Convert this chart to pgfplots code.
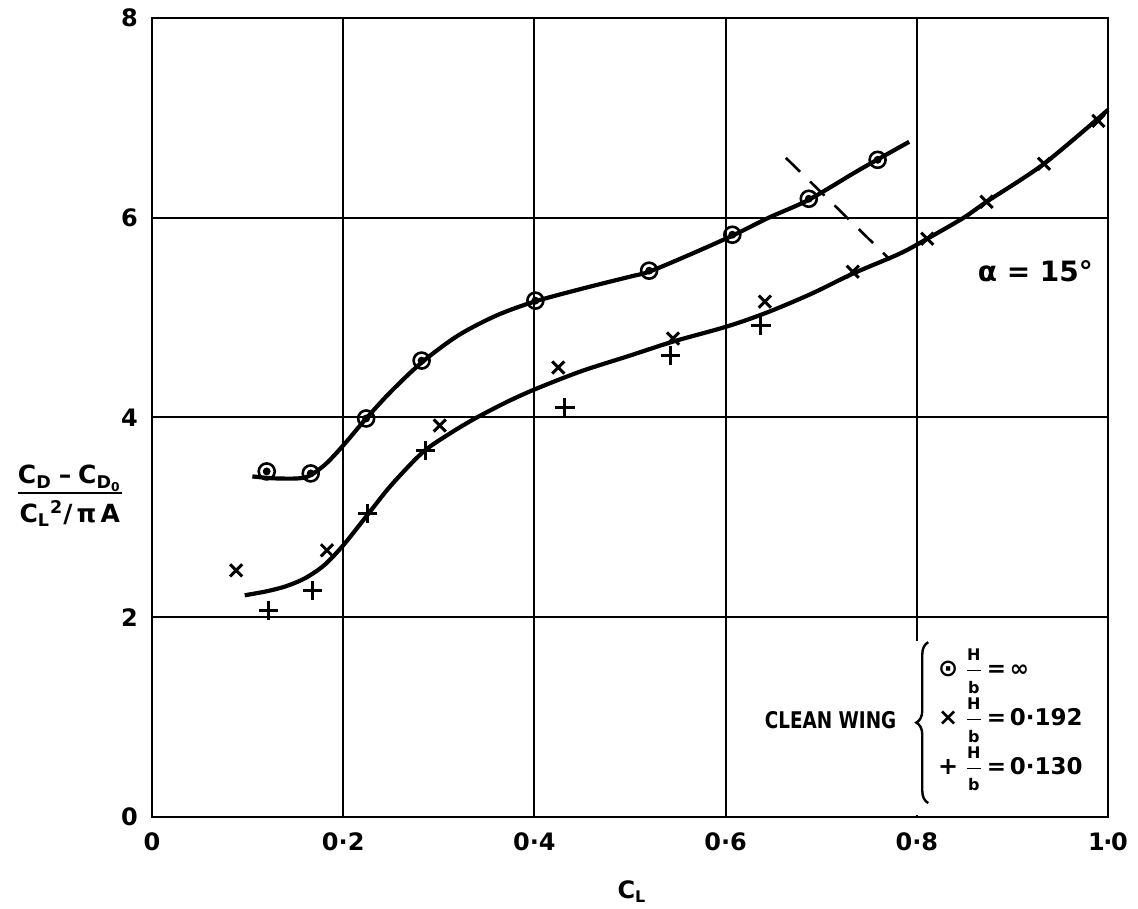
\documentclass[border=0pt]{standalone}
\usepackage{amsmath}
\usepackage{graphicx}
\usepackage{pgfplots}
\pgfplotsset{compat=1.18}
\usetikzlibrary{decorations.pathreplacing}
\usepackage{fontspec}
\setmainfont{DejaVu Sans}
\pgfdeclareplotmark{odot}{%
  \pgfpathcircle{\pgfpointorigin}{\pgfplotmarksize}\pgfusepathqstroke
  \pgfpathcircle{\pgfpointorigin}{0.32\pgfplotmarksize}\pgfusepathqfillstroke}
\newcommand{\Hb}{\ensuremath{\genfrac{}{}{0.7pt}{0}{\text{\fontsize{8}{8}\selectfont\bfseries H}}{\text{\fontsize{8}{8}\selectfont\bfseries b}}}}
\newcommand{\rowstrut}{\rule[-10.5pt]{0pt}{18pt}}
\begin{document}
\begin{tikzpicture}
\begin{axis}[
  scale only axis, width=478pt, height=399.5pt,
  xmin=0, xmax=1, ymin=0, ymax=8,
  xtick={0,0.2,0.4,0.6,0.8,1},
  xticklabels={0,0·2,0·4,0·6,0·8,{1\kern-0.06em·\kern-0.06em0}},
  ytick={0,2,4,6,8},
  yticklabels={0,2,4,6,8},
  grid=major, major grid style={black, line width=1pt},
  axis line style={line width=1.3pt},
  major tick length=0pt,
  tick label style={font=\fontsize{12}{14}\selectfont\bfseries},
  xticklabel style={yshift=-4.5pt},
  yticklabel style={xshift=-3.5pt},
  clip=false,
]
% smooth curves
\addplot[black, line width=2.1pt, smooth] coordinates {
(0.105,3.41)(0.13,3.39)(0.16,3.40)(0.18,3.52)(0.20,3.72)(0.224,3.99)(0.25,4.26)(0.282,4.55)(0.32,4.82)(0.36,5.02)(0.40,5.16)(0.45,5.29)(0.50,5.41)(0.52,5.46)(0.56,5.62)(0.607,5.82)(0.645,6.00)(0.687,6.18)(0.74,6.48)(0.792,6.76)};
\addplot[black, line width=2.1pt, smooth] coordinates {
(0.097,2.22)(0.12,2.26)(0.14,2.31)(0.16,2.39)(0.18,2.52)(0.20,2.72)(0.225,3.02)(0.25,3.32)(0.283,3.65)(0.31,3.83)(0.336,3.98)(0.37,4.15)(0.40,4.28)(0.448,4.46)(0.50,4.62)(0.545,4.76)(0.601,4.91)(0.643,5.05)(0.69,5.24)(0.733,5.44)(0.782,5.64)(0.811,5.79)(0.849,6.0)(0.873,6.16)(0.933,6.54)(1.0,7.08)};
% data points
\addplot[only marks, mark=odot, mark size=4pt, mark options={line width=1.3pt, draw=black, fill=black}] coordinates {
(0.120,3.46)(0.166,3.44)(0.224,3.99)(0.282,4.57)(0.401,5.17)(0.520,5.47)(0.607,5.83)(0.687,6.19)(0.759,6.58)};
\addplot[only marks, mark=x, mark size=4.3pt, mark options={line width=1.5pt, black}] coordinates {
(0.088,2.47)(0.183,2.67)(0.301,3.92)(0.425,4.50)(0.545,4.79)(0.641,5.16)(0.733,5.46)(0.811,5.79)(0.873,6.16)(0.933,6.54)(0.990,6.97)};
\addplot[only marks, mark=+, mark size=4.8pt, mark options={line width=1.5pt, black}] coordinates {
(0.122,2.07)(0.168,2.27)(0.225,3.04)(0.286,3.67)(0.432,4.10)(0.542,4.62)(0.637,4.92)};
% alpha = 15 deg line
\addplot[black, line width=1.3pt, dash pattern=on 10pt off 7pt] coordinates {(0.663,6.60) (0.772,5.58)};
\node[font=\fontsize{14}{16}\selectfont\bfseries] at (axis cs:0.924,5.46) {α = 15°};
% legend
\fill[white] (axis cs:0.79,0.02) rectangle (axis cs:0.81,1.76);
\draw[black, line width=1.2pt, decorate, decoration={brace, amplitude=6pt}] (axis cs:0.812,0.14) -- (axis cs:0.812,1.75);
\node[anchor=east, inner sep=0pt, font=\fontsize{11.5}{14}\selectfont\bfseries] at (axis cs:0.779,0.97)
 {\scalebox{0.8}[1]{CLEAN WING}};
\node[anchor=west, inner sep=0pt, font=\fontsize{11.5}{14}\selectfont\bfseries] at (axis cs:0.822,0.95)
 {\renewcommand{\arraystretch}{1.0}\begin{tabular}{@{}l@{}}
 \rowstrut{\large ⊙}\;\Hb\,=\,∞\\
 \rowstrut{\large ×}\;\Hb\,=\,0·192\\
 \rowstrut{\large +}\;\Hb\,=\,0·130
 \end{tabular}};
% axis labels
\node[font=\fontsize{12}{14}\selectfont\bfseries] at (axis description cs:0.502,-0.093) {C\textsubscript{L}};
\node[font=\fontsize{12.5}{14}\selectfont\bfseries, inner sep=0pt] at (axis description cs:-0.086,0.40)
 {\setlength{\arrayrulewidth}{1pt}\begin{tabular}{@{}c@{}}C\textsubscript{D}\;–\;C\textsubscript{D\textsubscript{0}}\\\hline
  \rule{0pt}{14pt}C\textsubscript{L}\textsuperscript{2}/\,π\,A\end{tabular}};
\end{axis}
\path (current axis.south west) ++(-76pt,-45.5pt) coordinate (bbA);
\path (current axis.north east) ++(15pt,9pt) coordinate (bbB);
\path (bbA) rectangle (bbB);
\end{tikzpicture}
\end{document}
